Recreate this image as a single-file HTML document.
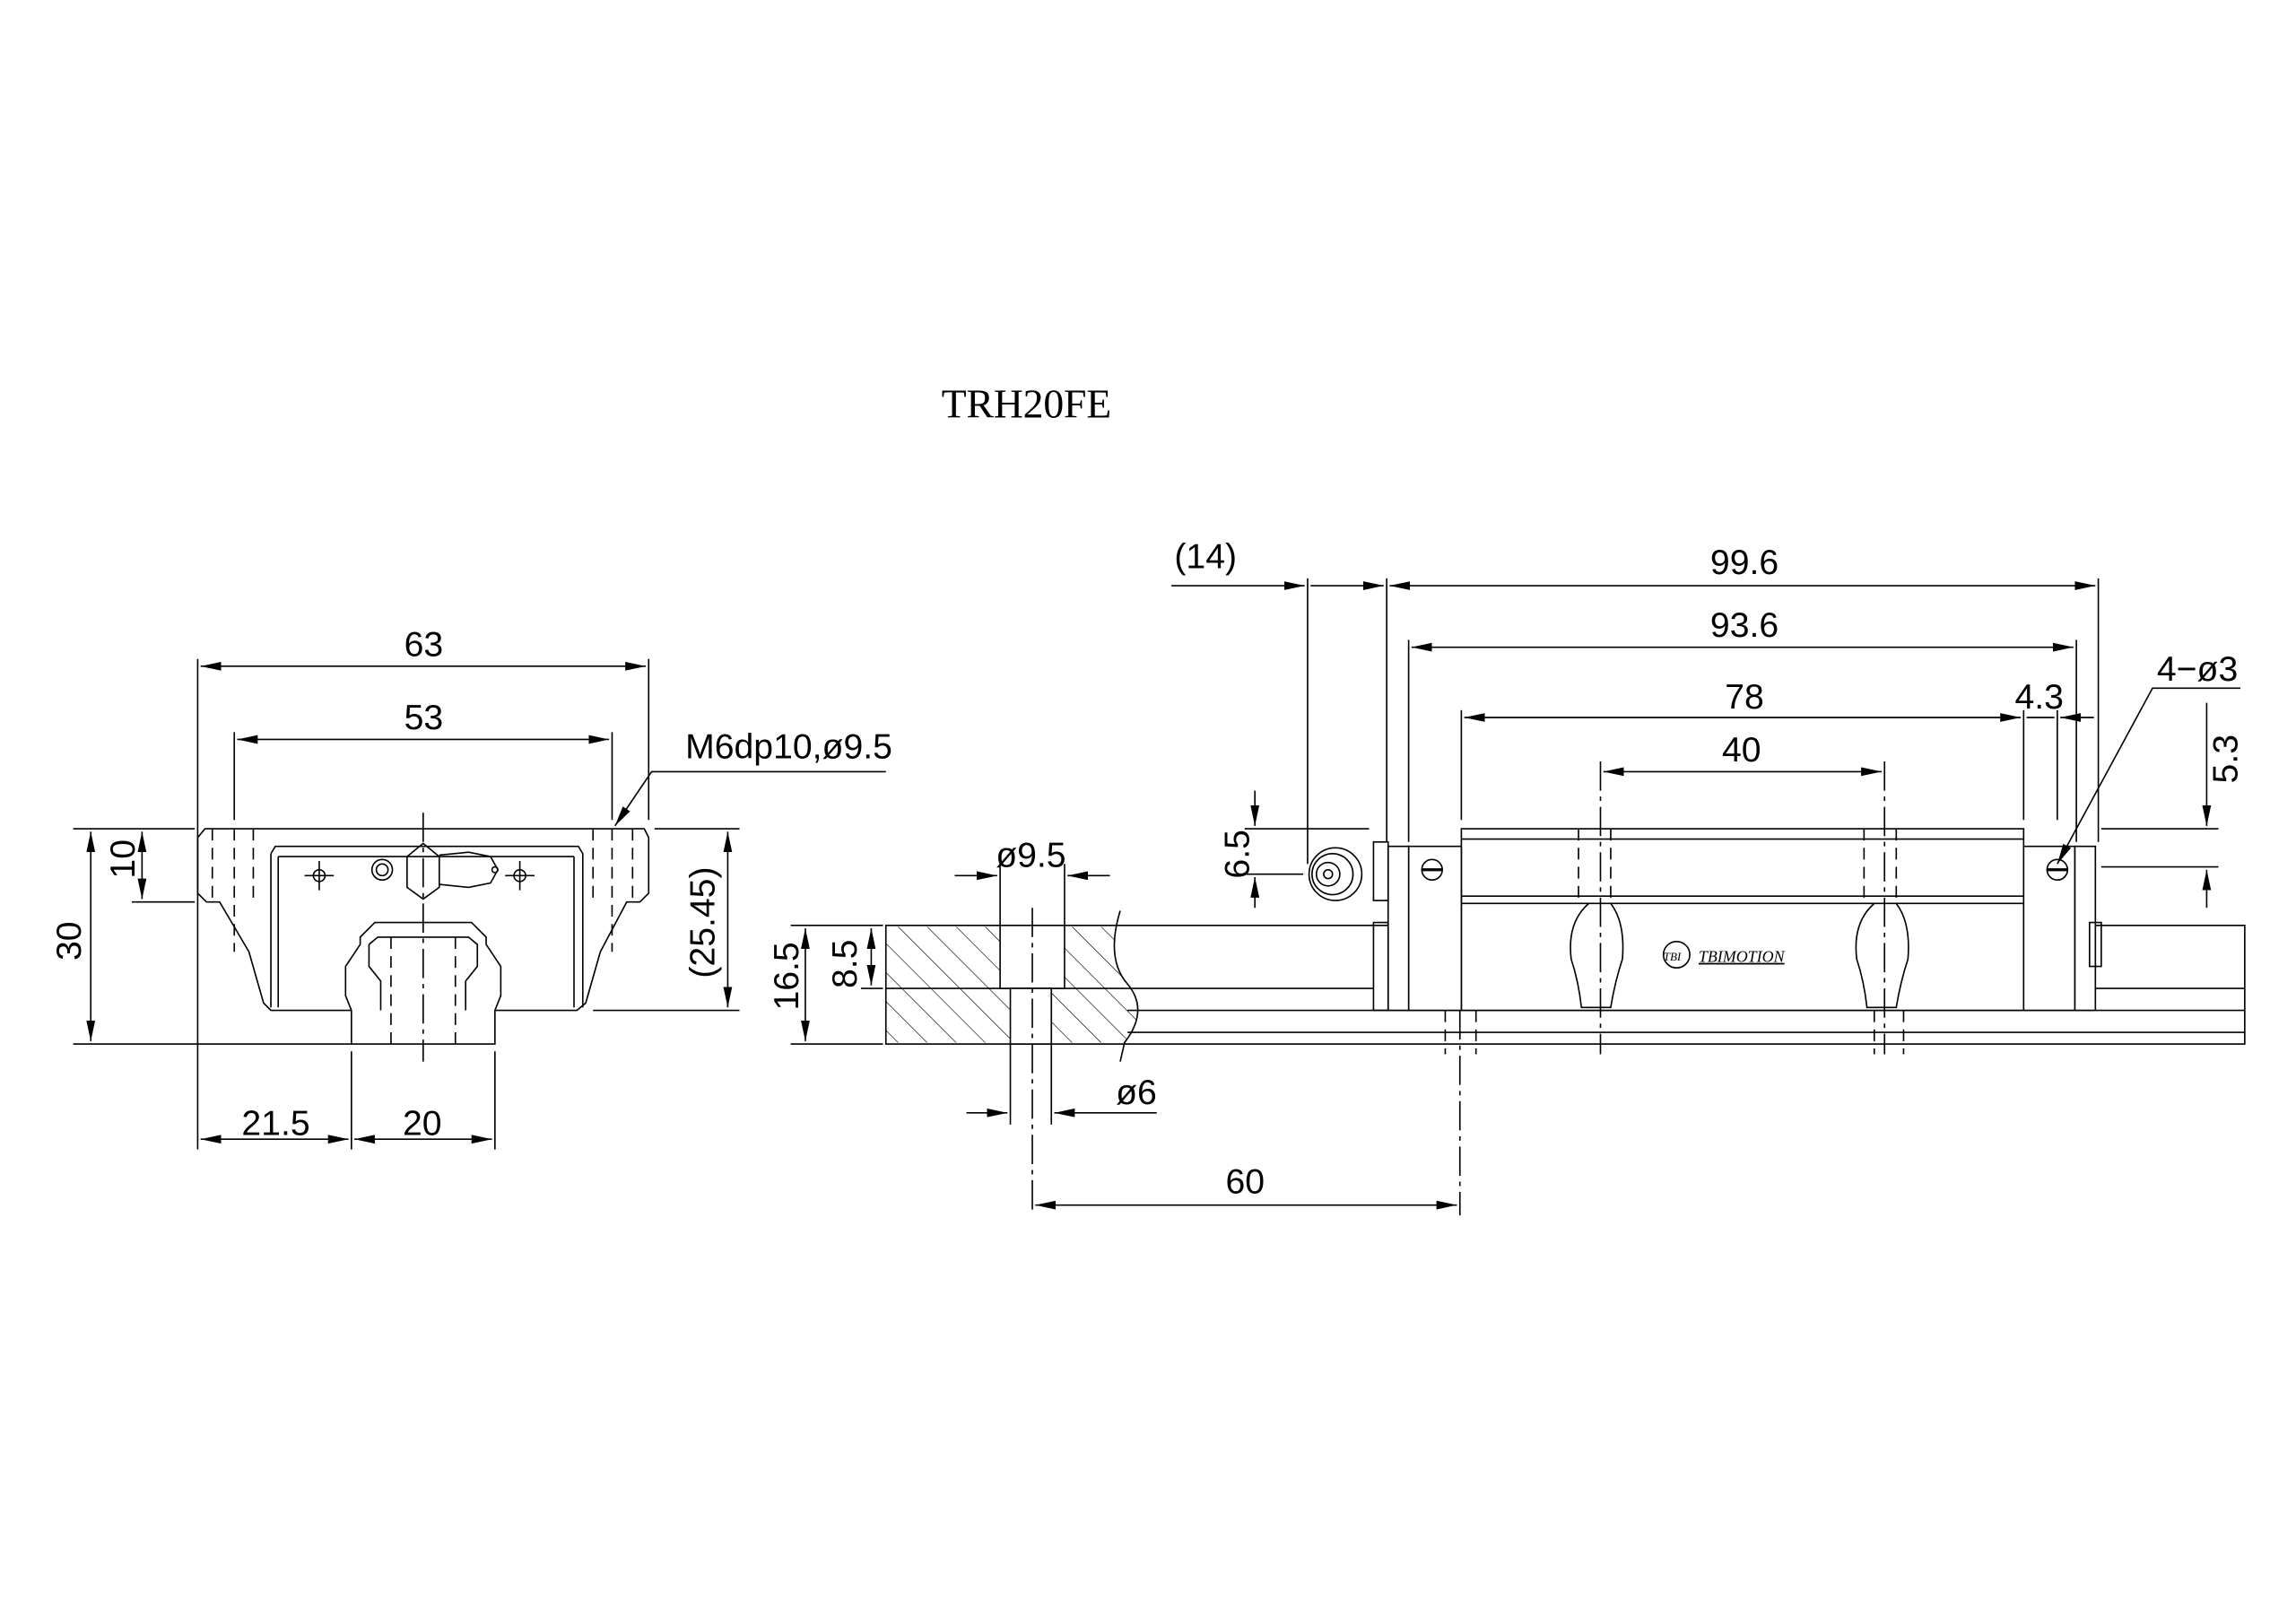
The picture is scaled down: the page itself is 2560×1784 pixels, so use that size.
<!DOCTYPE html>
<html><head><meta charset="utf-8"><style>
html,body{margin:0;padding:0;background:#fff;}
svg{display:block;}
text{font-family:"Liberation Sans",sans-serif;fill:#000;}
.t{font-size:24px;font-weight:300;}
</style></head><body>
<svg width="2560" height="1784" viewBox="0 0 1568 1092.7" preserveAspectRatio="none" xmlns="http://www.w3.org/2000/svg">
<defs>
<marker id="a" markerWidth="14" markerHeight="6" refX="14" refY="3" orient="auto" markerUnits="userSpaceOnUse"><path d="M0,0 L14,3 L0,6z" fill="#000"/></marker>
<marker id="b" markerWidth="14" markerHeight="6" refX="0" refY="3" orient="auto" markerUnits="userSpaceOnUse"><path d="M14,0 L0,3 L14,6z" fill="#000"/></marker>
<pattern id="h" width="14" height="14" patternUnits="userSpaceOnUse" patternTransform="rotate(-45)"><line x1="0" y1="0" x2="0" y2="14" stroke="#000" stroke-width="0.8"/></pattern>
</defs>
<g fill="none" stroke="#000" stroke-width="1">
<text x="643" y="285" style="font-family:'Liberation Serif',serif;font-size:28px" stroke="none" textLength="116">TRH20FE</text>

<!-- LEFT VIEW -->
<line x1="135" y1="450" x2="135" y2="785"/><line x1="443" y1="450" x2="443" y2="560"/>
<line x1="160" y1="500" x2="160" y2="560"/><line x1="418" y1="500" x2="418" y2="560"/>
<line x1="137" y1="455" x2="441" y2="455" marker-start="url(#b)" marker-end="url(#a)"/>
<line x1="162" y1="505" x2="416" y2="505" marker-start="url(#b)" marker-end="url(#a)"/>
<line x1="50" y1="566" x2="133" y2="566"/><line x1="447" y1="566" x2="505" y2="566"/>
<line x1="90" y1="616" x2="133" y2="616"/>
<line x1="50" y1="713" x2="240" y2="713"/>
<line x1="405" y1="690" x2="505" y2="690"/>
<line x1="97" y1="568" x2="97" y2="614" marker-start="url(#b)" marker-end="url(#a)"/>
<line x1="62" y1="568" x2="62" y2="711" marker-start="url(#b)" marker-end="url(#a)"/>
<line x1="497" y1="568" x2="497" y2="688" marker-start="url(#b)" marker-end="url(#a)"/>
<!-- block -->
<path d="M240,690 L185,690 L180,685 L170,650 L150,616 L141,616 L135,610 L135,572 L140,566 L440,566 L443,572 L443,610 L437,616 L428,616 L410,650 L400,685 L394,690 L338,690"/>
<path d="M185,583 L188,578 L395,578 L398,583 L398,688 M185,583 L185,688"/>
<line x1="190" y1="585" x2="392" y2="585"/><line x1="190" y1="585" x2="190" y2="688"/><line x1="392" y1="585" x2="392" y2="688"/>
<!-- rail -->
<path d="M240,713 L240,690 L236,680 L236,660 L246,645 L246,640 L256,630 L322,630 L332,640 L332,645 L342,660 L342,680 L338,690 L338,713 Z"/>
<path d="M252,645 L258,640 L320,640 L326,645 L326,660 L318,670 L318,690 M252,645 L252,660 L260,670 L260,690"/>
<g stroke-dasharray="8,5"><line x1="267" y1="640" x2="267" y2="713"/><line x1="311" y1="640" x2="311" y2="713"/><line x1="145" y1="566" x2="145" y2="616"/><line x1="160" y1="566" x2="160" y2="650"/><line x1="173" y1="566" x2="173" y2="616"/><line x1="418" y1="566" x2="418" y2="650"/><line x1="405" y1="566" x2="405" y2="616"/><line x1="432" y1="566" x2="432" y2="616"/></g>
<line x1="289" y1="555" x2="289" y2="725" stroke-dasharray="20,4,3,4"/>
<!-- nipple -->
<circle cx="261" cy="594" r="7"/><circle cx="261" cy="594" r="4"/>
<path d="M278,585 L289,576 L300,585 L300,606 L289,614 L278,606 Z"/>
<path d="M300,584 L320,582 L335,585 L340,594 L335,603 L320,606 L300,604"/>
<circle cx="338" cy="594" r="2"/>
<circle cx="218" cy="598" r="4"/><circle cx="355" cy="598" r="4"/>
<line x1="208" y1="598" x2="228" y2="598"/><line x1="218" y1="588" x2="218" y2="608"/>
<line x1="345" y1="598" x2="365" y2="598"/><line x1="355" y1="588" x2="355" y2="608"/>
<!-- bottom dims -->
<line x1="240" y1="718" x2="240" y2="785"/><line x1="338" y1="718" x2="338" y2="785"/>
<line x1="137" y1="778" x2="238" y2="778" marker-start="url(#b)" marker-end="url(#a)"/>
<line x1="242" y1="778" x2="336" y2="778" marker-start="url(#b)" marker-end="url(#a)"/>
<polyline points="605,527 445,527 420,564" marker-end="url(#a)"/>
<g class="t" stroke="none">
<text x="276" y="448">63</text><text x="276" y="498">53</text>
<text x="468" y="518">M6dp10,ø9.5</text>
<text x="165" y="775">21.5</text><text x="275" y="775">20</text>
<text transform="translate(92,600) rotate(-90)">10</text>
<text transform="translate(55,656) rotate(-90)">30</text>
<text transform="translate(488,668) rotate(-90)">(25.45)</text>
</g>

<!-- RIGHT VIEW -->
<rect x="605" y="632" width="928" height="81"/>
<line x1="770" y1="675" x2="938" y2="675"/><line x1="1430" y1="675" x2="1533" y2="675"/>
<line x1="770" y1="690" x2="1533" y2="690"/><line x1="770" y1="705" x2="1533" y2="705"/>
<path d="M605,633 L765,633 Q755,655 770,672 Q785,690 768,712 L605,712 Z" fill="url(#h)" stroke="none"/>
<path d="M765,622 Q755,655 770,672 Q785,690 768,712 L765,725"/>
<line x1="605" y1="675" x2="770" y2="675"/>
<rect x="683" y="632" width="44" height="43" fill="#fff"/>
<rect x="690" y="675" width="28" height="38" fill="#fff"/>
<line x1="705" y1="620" x2="705" y2="830" stroke-dasharray="20,4,3,4"/>
<line x1="683" y1="590" x2="683" y2="632"/><line x1="727" y1="590" x2="727" y2="632"/>
<line x1="652" y1="598" x2="681" y2="598" marker-end="url(#a)"/><line x1="758" y1="598" x2="729" y2="598" marker-end="url(#a)"/>
<line x1="690" y1="713" x2="690" y2="768"/><line x1="718" y1="713" x2="718" y2="768"/>
<line x1="660" y1="760" x2="688" y2="760" marker-end="url(#a)"/><line x1="790" y1="760" x2="720" y2="760" marker-end="url(#a)"/>
<line x1="540" y1="632" x2="603" y2="632"/><line x1="540" y1="713" x2="603" y2="713"/><line x1="588" y1="675" x2="603" y2="675"/>
<line x1="550" y1="634" x2="550" y2="711" marker-start="url(#b)" marker-end="url(#a)"/>
<line x1="595" y1="634" x2="595" y2="673" marker-start="url(#b)" marker-end="url(#a)"/>
<line x1="707" y1="823" x2="995" y2="823" marker-start="url(#b)" marker-end="url(#a)"/>
<line x1="997" y1="690" x2="997" y2="830" stroke-dasharray="20,4,3,4"/>
<!-- block -->
<rect x="998" y="566" width="384" height="124" fill="#fff"/>
<line x1="998" y1="573" x2="1382" y2="573"/><line x1="998" y1="612" x2="1382" y2="612"/><line x1="998" y1="617" x2="1382" y2="617"/>
<rect x="962" y="578" width="36" height="112" fill="#fff"/><rect x="1382" y="578" width="35" height="112" fill="#fff"/>
<rect x="948" y="578" width="14" height="112" fill="#fff"/><rect x="1417" y="578" width="14" height="112" fill="#fff"/>
<rect x="938" y="575" width="10" height="40"/><rect x="938" y="630" width="10" height="60"/>
<rect x="1427" y="630" width="8" height="30"/>
<circle cx="912" cy="597" r="18"/><circle cx="910" cy="597" r="14"/><circle cx="907" cy="597" r="8"/><circle cx="907" cy="597" r="3"/>
<circle cx="978" cy="594" r="7"/><line x1="971" y1="594" x2="985" y2="594" stroke-width="2"/>
<circle cx="1405" cy="594" r="7"/><line x1="1398" y1="594" x2="1412" y2="594" stroke-width="2"/>
<path d="M1085,617 Q1070,630 1073,655 Q1078,670 1080,688 L1100,688 Q1103,670 1108,655 Q1110,630 1100,617"/>
<path d="M1280,617 Q1265,630 1268,655 Q1273,670 1275,688 L1295,688 Q1298,670 1303,655 Q1305,630 1295,617"/>
<g stroke-dasharray="8,5"><line x1="1078" y1="566" x2="1078" y2="617"/><line x1="1100" y1="566" x2="1100" y2="617"/><line x1="1273" y1="566" x2="1273" y2="617"/><line x1="1295" y1="566" x2="1295" y2="617"/>
<line x1="987" y1="690" x2="987" y2="720"/><line x1="1008" y1="690" x2="1008" y2="720"/><line x1="1280" y1="690" x2="1280" y2="720"/><line x1="1300" y1="690" x2="1300" y2="720"/></g>
<line x1="1093" y1="520" x2="1093" y2="720" stroke-dasharray="20,4,3,4"/>
<line x1="1287" y1="520" x2="1287" y2="720" stroke-dasharray="20,4,3,4"/>
<circle cx="1145" cy="652" r="9"/>
<text x="1136" y="656" style="font-family:'Liberation Serif',serif;font-size:8px;font-style:italic" stroke="none">TBI</text>
<text x="1160" y="657" style="font-family:'Liberation Serif',serif;font-size:11px;font-style:italic;text-decoration:underline" stroke="none">TBIMOTION</text>
<!-- top dims -->
<line x1="893" y1="395" x2="893" y2="590"/><line x1="947" y1="395" x2="947" y2="575"/>
<line x1="962" y1="437" x2="962" y2="575"/><line x1="1433" y1="395" x2="1433" y2="575"/>
<line x1="1418" y1="437" x2="1418" y2="575"/>
<line x1="998" y1="485" x2="998" y2="560"/><line x1="1382" y1="485" x2="1382" y2="560"/>
<line x1="1405" y1="485" x2="1405" y2="560"/>
<line x1="800" y1="400" x2="891" y2="400" marker-end="url(#a)"/><line x1="895" y1="400" x2="945" y2="400" marker-end="url(#a)"/>
<line x1="949" y1="400" x2="1431" y2="400" marker-start="url(#b)" marker-end="url(#a)"/>
<line x1="964" y1="442" x2="1416" y2="442" marker-start="url(#b)" marker-end="url(#a)"/>
<line x1="1000" y1="490" x2="1380" y2="490" marker-start="url(#b)" marker-end="url(#a)"/>
<line x1="1095" y1="527" x2="1285" y2="527" marker-start="url(#b)" marker-end="url(#a)"/>
<line x1="1384" y1="490" x2="1403" y2="490"/><line x1="1430" y1="490" x2="1407" y2="490" marker-end="url(#a)"/>
<line x1="850" y1="566" x2="935" y2="566"/><line x1="1435" y1="566" x2="1515" y2="566"/>
<line x1="850" y1="597" x2="890" y2="597"/><line x1="1435" y1="592" x2="1515" y2="592"/>
<line x1="857" y1="540" x2="857" y2="564" marker-end="url(#a)"/><line x1="857" y1="620" x2="857" y2="599" marker-end="url(#a)"/>
<line x1="1507" y1="480" x2="1507" y2="564" marker-end="url(#a)"/><line x1="1507" y1="620" x2="1507" y2="594" marker-end="url(#a)"/>
<polyline points="1530,470 1470,470 1405,590" marker-end="url(#a)"/>
<g class="t" stroke="none">
<text x="802" y="388">(14)</text><text x="1168" y="392">99.6</text><text x="1168" y="435">93.6</text>
<text x="1178" y="484">78</text><text x="1176" y="520">40</text><text x="1376" y="484">4.3</text>
<text x="1473" y="465">4−ø3</text>
<text x="680" y="592">ø9.5</text><text x="762" y="754">ø6</text><text x="837" y="815">60</text>
<text transform="translate(1528,535) rotate(-90)">5.3</text>
<text transform="translate(853,600) rotate(-90)">6.5</text>
<text transform="translate(545,690) rotate(-90)">16.5</text>
<text transform="translate(585,675) rotate(-90)">8.5</text>
</g>
</g>
</svg>
</body></html>
